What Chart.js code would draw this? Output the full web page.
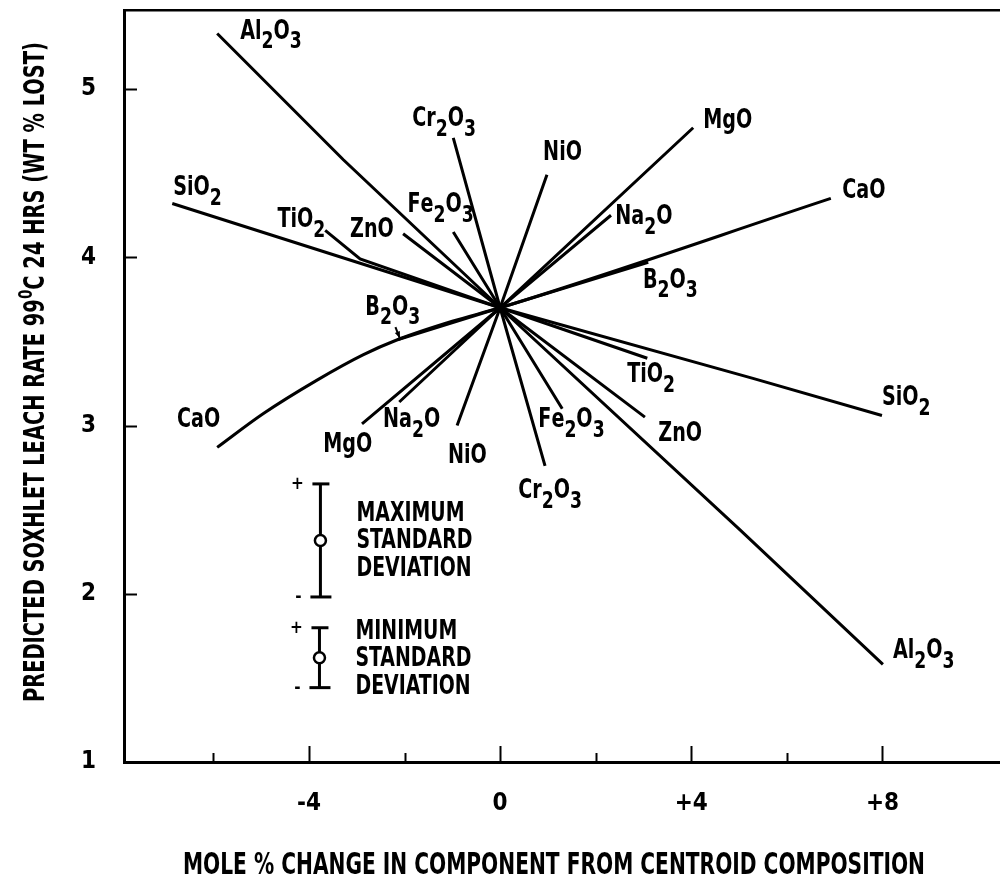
<!DOCTYPE html>
<html>
<head>
<meta charset="utf-8">
<title>Predicted Soxhlet leach rate trace plot</title>
<script src="https://cdn.jsdelivr.net/npm/chart.js@4.4.1/dist/chart.umd.min.js"></script>
<style>
  html, body { margin: 0; padding: 0; background: #fff; }
  #wrap { width: 1000px; height: 890px; position: relative; }
</style>
</head>
<body>
<div id="wrap"><canvas id="c" width="1000" height="890"></canvas></div>
<script>
// Predicted leach rate along each component's direction of change,
// every trace passing through the centroid composition (0, 3.70).
const al2o3 = [[-5.92, 5.33], [-3.28, 4.58], [0, 3.70], [5.02, 2.38], [8.01, 1.58]];
const sio2  = [[-6.86, 4.32], [0, 3.70], [5.29, 3.28], [7.99, 3.06]];
const cao   = [[-5.92, 2.87], [-4.96, 3.07], [-3.83, 3.27], [-2.87, 3.42], [-2.15, 3.51], [-1.00, 3.62], [0, 3.70], [6.92, 4.35]];
const b2o3  = [[-2.15, 3.51], [0, 3.70], [3.10, 3.97]];
const tio2  = [[-3.66, 4.16], [-2.93, 3.99], [0, 3.70], [3.08, 3.40]];
const zno   = [[-2.03, 4.14], [0, 3.70], [3.03, 3.05]];
const fe2o3 = [[-0.98, 4.15], [0, 3.70], [1.30, 3.10]];
const cr2o3 = [[-0.98, 4.71], [0, 3.70], [0.94, 2.76]];
const nio   = [[-0.90, 3.00], [0, 3.70], [0.98, 4.49]];
const mgo   = [[-2.89, 3.01], [0, 3.70], [4.04, 4.77]];
const na2o  = [[-2.11, 3.14], [0, 3.70], [2.32, 4.25]];

const componentNames = ['Al2O3', 'SiO2', 'CaO', 'B2O3', 'TiO2', 'ZnO', 'Fe2O3', 'Cr2O3', 'NiO', 'MgO', 'Na2O'];
const componentTraces = [al2o3, sio2, cao, b2o3, tio2, zno, fe2o3, cr2o3, nio, mgo, na2o];
const curvedTraces = ['CaO'];

// Axis ticks
const xTickValues = [-6, -4, -2, 0, 2, 4, 6, 8];
const xMajorTicks = [-4, 0, 4, 8];
const xTickText = { '-4': '-4', '0': '0', '4': '+4', '8': '+8' };
const yTickValues = [1, 2, 3, 4, 5];

// Standard deviation key (wt % lost)
const maxStdDev = 0.336;
const minStdDev = 0.178;

// Where each trace label sits (left edge, baseline) in axis units
const labelAnchors = [
  ['Al2O3', -5.44, 5.30], ['Cr2O3', -1.84, 4.78], ['SiO2', -6.84, 4.37],
  ['TiO2', -4.66, 4.18], ['ZnO', -3.14, 4.12], ['Fe2O3', -1.94, 4.27],
  ['MgO', 4.25, 4.77], ['NiO', 0.90, 4.58], ['Na2O', 2.41, 4.20],
  ['CaO', 7.16, 4.35], ['B2O3', 2.99, 3.82],
  ['B2O3', -2.82, 3.66], ['CaO', -6.76, 2.99], ['MgO', -3.70, 2.84],
  ['Na2O', -2.45, 2.99], ['NiO', -1.09, 2.78],
  ['TiO2', 2.66, 3.26], ['ZnO', 3.31, 2.91], ['SiO2', 7.99, 3.12],
  ['Fe2O3', 0.80, 2.99], ['Cr2O3', 0.38, 2.57], ['Al2O3', 8.22, 1.62]
];
// Key bars: centre position in axis units
const keyMax = { x: -3.76, y: 2.317 };
const keyMin = { x: -3.78, y: 1.62 };

const FONT = '"DejaVu Sans Condensed", "DejaVu Sans", sans-serif';

// Chemical formula with lowered digits, squeezed horizontally by sx
function drawFormula(ctx, text, x, y, size, sx) {
  ctx.save();
  ctx.translate(x, y);
  ctx.scale(sx, 1);
  let cx = 0;
  for (const ch of text) {
    const sub = /[0-9]/.test(ch);
    ctx.font = `bold ${sub ? size * 0.9 : size}px ${FONT}`;
    ctx.fillText(ch, cx, sub ? size * 0.38 : 0);
    cx += ctx.measureText(ch).width;
  }
  ctx.restore();
}

function fitScale(ctx, text, size, width) {
  ctx.font = `bold ${size}px ${FONT}`;
  return width / ctx.measureText(text).width;
}

const overlay = {
  id: 'overlay',
  afterDatasetsDraw(chart) {
    const ctx = chart.ctx;
    const xs = chart.scales.x, ys = chart.scales.y;
    const area = chart.chartArea;
    ctx.save();
    ctx.strokeStyle = '#000';
    ctx.fillStyle = '#000';
    ctx.lineCap = 'butt';

    // inward tick marks
    ctx.lineWidth = 2;
    xTickValues.forEach(v => {
      const px = Math.round(xs.getPixelForValue(v)) + 0.5;
      const len = xMajorTicks.includes(v) ? 16 : 9;
      ctx.beginPath(); ctx.moveTo(px, area.bottom); ctx.lineTo(px, area.bottom - len); ctx.stroke();
    });
    yTickValues.filter(v => v > 1).forEach(v => {
      const py = Math.round(ys.getPixelForValue(v)) + 0.5;
      ctx.beginPath(); ctx.moveTo(area.left, py); ctx.lineTo(area.left + 13, py); ctx.stroke();
    });

    // trace labels
    ctx.textBaseline = 'alphabetic';
    ctx.textAlign = 'left';
    const lsize = 26;
    const lsx = fitScale(ctx, 'MgO', lsize, 49);
    labelAnchors.forEach(([name, x, y]) => {
      drawFormula(ctx, name, xs.getPixelForValue(x), ys.getPixelForValue(y), lsize, lsx);
    });

    // leader from the lower B2O3 label to its trace
    const ax0 = xs.getPixelForValue(-2.19), ay0 = ys.getPixelForValue(3.585);
    const ax1 = xs.getPixelForValue(-2.10), ay1 = ys.getPixelForValue(3.52);
    ctx.lineWidth = 2;
    ctx.beginPath(); ctx.moveTo(ax0, ay0); ctx.lineTo(ax1, ay1); ctx.stroke();
    const ang = Math.atan2(ay1 - ay0, ax1 - ax0);
    ctx.beginPath();
    ctx.moveTo(ax1, ay1);
    ctx.lineTo(ax1 - 7 * Math.cos(ang - 0.4), ay1 - 7 * Math.sin(ang - 0.4));
    ctx.lineTo(ax1 - 7 * Math.cos(ang + 0.4), ay1 - 7 * Math.sin(ang + 0.4));
    ctx.closePath(); ctx.fill();

    // standard deviation key
    const ksize = 26;
    const ksx = fitScale(ctx, 'STANDARD', ksize, 116);
    const drawKey = (pos, sd, lines) => {
      const px = xs.getPixelForValue(pos.x);
      const pc = ys.getPixelForValue(pos.y);
      const pt = ys.getPixelForValue(pos.y + sd);
      const pb = ys.getPixelForValue(pos.y - sd);
      ctx.lineWidth = 3;
      ctx.beginPath(); ctx.moveTo(px, pt); ctx.lineTo(px, pb); ctx.stroke();
      ctx.beginPath(); ctx.moveTo(px - 8, pt); ctx.lineTo(px + 9, pt); ctx.stroke();
      ctx.beginPath(); ctx.moveTo(px - 10, pb); ctx.lineTo(px + 11, pb); ctx.stroke();
      ctx.lineWidth = 2.5;
      ctx.beginPath(); ctx.arc(px, pc, 5.5, 0, Math.PI * 2);
      ctx.fillStyle = '#fff'; ctx.fill(); ctx.stroke();
      ctx.fillStyle = '#000';
      ctx.font = `bold 17px ${FONT}`;
      ctx.textAlign = 'center'; ctx.textBaseline = 'middle';
      ctx.fillText('+', px - 23, pt + 1);
      ctx.fillText('-', px - 22, pb + 1);
      ctx.textAlign = 'left'; ctx.textBaseline = 'alphabetic';
      const offs = [-19, 8, 36];
      lines.forEach((t, i) => {
        ctx.save();
        ctx.translate(px + 36, pc + offs[i]);
        ctx.scale(ksx, 1);
        ctx.font = `bold ${ksize}px ${FONT}`;
        ctx.fillText(t, 0, 0);
        ctx.restore();
      });
    };
    drawKey(keyMax, maxStdDev, ['MAXIMUM', 'STANDARD', 'DEVIATION']);
    drawKey(keyMin, minStdDev, ['MINIMUM', 'STANDARD', 'DEVIATION']);
    ctx.restore();
  },
  afterDraw(chart) {
    const ctx = chart.ctx;
    ctx.save();
    ctx.fillStyle = '#000';
    ctx.textAlign = 'left';
    ctx.textBaseline = 'alphabetic';

    // x axis title
    const xt = 'MOLE % CHANGE IN COMPONENT FROM CENTROID COMPOSITION';
    const xsize = 30;
    const xsx = fitScale(ctx, xt, xsize, 742);
    ctx.save();
    ctx.translate(183, 874);
    ctx.scale(xsx, 1);
    ctx.font = `bold ${xsize}px ${FONT}`;
    ctx.fillText(xt, 0, 0);
    ctx.restore();

    // y axis title, with raised degree zero
    const ysize = 29;
    const parts = [
      ['PREDICTED SOXHLET LEACH RATE 99', false],
      ['0', true],
      ['C 24 HRS (WT % LOST)', false]
    ];
    let total = 0;
    parts.forEach(([t, sup]) => {
      ctx.font = `bold ${sup ? ysize * 0.7 : ysize}px ${FONT}`;
      total += ctx.measureText(t).width;
    });
    const ysx = 660 / total;
    ctx.save();
    ctx.translate(44, 702);
    ctx.rotate(-Math.PI / 2);
    ctx.scale(ysx, 1);
    let cx = 0;
    parts.forEach(([t, sup]) => {
      ctx.font = `bold ${sup ? ysize * 0.7 : ysize}px ${FONT}`;
      ctx.fillText(t, cx, sup ? -ysize * 0.42 : 0);
      cx += ctx.measureText(t).width;
    });
    ctx.restore();
    ctx.restore();
  }
};

const datasets = componentTraces.map((pts, i) => ({
  label: componentNames[i],
  data: pts.map(([x, y]) => ({ x, y })),
  showLine: true,
  borderColor: '#000',
  borderWidth: 3,
  pointRadius: 0,
  fill: false,
  tension: 0,
  cubicInterpolationMode: curvedTraces.includes(componentNames[i]) ? 'monotone' : 'default'
}));

const X_MIN = -7.87, X_MAX = 10.46;

new Chart(document.getElementById('c'), {
  type: 'scatter',
  data: { datasets },
  options: {
    responsive: false,
    animation: false,
    devicePixelRatio: 1,
    layout: { padding: 0 },
    plugins: { legend: { display: false }, tooltip: { enabled: false } },
    scales: {
      x: {
        type: 'linear', position: 'bottom', min: X_MIN, max: X_MAX,
        afterBuildTicks: s => { s.ticks = xTickValues.map(v => ({ value: v })); },
        afterFit: s => { s.height = 128; s.paddingLeft = 0; s.paddingRight = 0; },
        grid: { display: false, drawTicks: false },
        border: { display: true, color: '#000', width: 3 },
        ticks: {
          callback: v => (xTickText[String(v)] ?? ''),
          color: '#000', padding: 27, maxRotation: 0, autoSkip: false,
          font: { family: FONT, size: 24, weight: 'bold' }
        }
      },
      xTop: {
        type: 'linear', position: 'top', min: X_MIN, max: X_MAX,
        afterFit: s => { s.height = 10; s.paddingLeft = 0; s.paddingRight = 0; },
        grid: { display: false, drawTicks: false },
        border: { display: true, color: '#000', width: 2.5 },
        ticks: { display: false }
      },
      y: {
        type: 'linear', position: 'left', min: 1, max: 5.47,
        afterBuildTicks: s => { s.ticks = yTickValues.map(v => ({ value: v })); },
        afterFit: s => { s.width = 124; s.paddingTop = 0; s.paddingBottom = 0; },
        grid: { display: false, drawTicks: false },
        border: { display: true, color: '#000', width: 3 },
        ticks: {
          color: '#000', padding: 28,
          font: { family: FONT, size: 24, weight: 'bold' }
        }
      }
    }
  },
  plugins: [overlay]
});
</script>
</body>
</html>
